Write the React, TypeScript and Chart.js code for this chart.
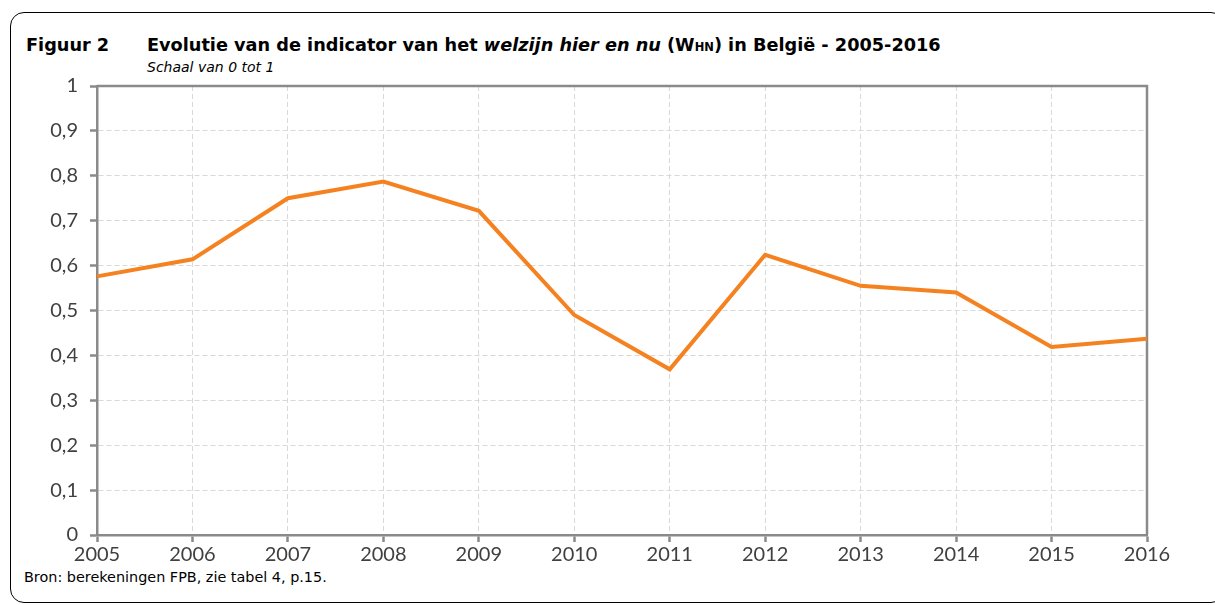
import React, { useEffect, useRef } from 'react';
import { Chart, registerables } from 'chart.js';

Chart.register(...registerables);

const years = ['2005', '2006', '2007', '2008', '2009', '2010', '2011', '2012', '2013', '2014', '2015', '2016'];
const whnValues = [0.576, 0.614, 0.750, 0.787, 0.722, 0.490, 0.369, 0.624, 0.555, 0.540, 0.419, 0.437];
const yTickLabels = ['0', '0,1', '0,2', '0,3', '0,4', '0,5', '0,6', '0,7', '0,8', '0,9', '1'];

const AXIS_GRAY = '#8a8a8a';
const GRID_GRAY = '#d9d9d9';
const LINE_ORANGE = '#f58220';
const TICK_TEXT = '#404040';

const frameLines = {
  id: 'frameLines',
  beforeDatasetsDraw(chart: any) {
    const { ctx, chartArea } = chart;
    const { left, right, top, bottom } = chartArea;
    ctx.save();
    ctx.strokeStyle = AXIS_GRAY;
    ctx.lineWidth = 2.5;
    ctx.beginPath();
    ctx.moveTo(left, top);
    ctx.lineTo(right, top);
    ctx.lineTo(right, bottom);
    ctx.stroke();
    ctx.restore();
  },
};

export default function App() {
  const canvasRef = useRef<HTMLCanvasElement | null>(null);

  useEffect(() => {
    if (!canvasRef.current) return;
    const chart = new Chart(canvasRef.current, {
      type: 'line',
      data: {
        labels: years,
        datasets: [
          {
            label: 'WHN',
            data: whnValues,
            borderColor: LINE_ORANGE,
            backgroundColor: LINE_ORANGE,
            borderWidth: 4,
            pointRadius: 0,
            tension: 0,
            borderJoinStyle: 'miter',
          },
        ],
      },
      options: {
        animation: false,
        responsive: false,
        devicePixelRatio: 1,
        layout: { padding: { top: 86, right: 68, left: 0, bottom: 0 } },
        plugins: {
          legend: { display: false },
          tooltip: { enabled: false },
          title: { display: false },
        },
        scales: {
          x: {
            type: 'category',
            offset: false,
            grid: {
              offset: false,
              color: GRID_GRAY,
              lineWidth: 1,
              tickLength: 7,
              tickColor: AXIS_GRAY,
              tickWidth: 2.5,
            },
            border: { display: true, color: AXIS_GRAY, width: 2.5, dash: [5, 3] },
            ticks: {
              color: TICK_TEXT,
              font: { family: 'Lato, "Open Sans", sans-serif', size: 20 },
              padding: 1,
              maxRotation: 0,
              autoSkip: false,
            },
            afterFit(scale: any) {
              scale.height = 70;
            },
          },
          y: {
            min: 0,
            max: 1,
            ticks: {
              stepSize: 0.1,
              color: TICK_TEXT,
              font: { family: 'Lato, "Open Sans", sans-serif', size: 20 },
              padding: 12,
              callback: (_v: any, i: number) => yTickLabels[i],
            },
            grid: {
              color: GRID_GRAY,
              lineWidth: 1,
              tickLength: 7,
              tickColor: AXIS_GRAY,
              tickWidth: 2.5,
            },
            border: { display: true, color: AXIS_GRAY, width: 2.5, dash: [5, 3] },
            afterFit(scale: any) {
              scale.width = 97;
            },
          },
        },
      },
      plugins: [frameLines],
    } as any);
    return () => chart.destroy();
  }, []);

  const font = '"DejaVu Sans", Verdana, sans-serif';

  return (
    <div style={{ position: 'absolute', left: 0, top: 0, width: 1215, height: 605, overflow: 'hidden', background: '#fff' }}>
      <div
        style={{
          position: 'absolute',
          left: 10,
          top: 12,
          width: 1215,
          height: 591,
          border: '1.5px solid #000',
          borderRadius: 14,
          boxSizing: 'border-box',
        }}
      />
      <div style={{ position: 'absolute', left: 26, top: 34, fontFamily: font, fontWeight: 'bold', fontSize: 17.7, lineHeight: '22px', color: '#000', whiteSpace: 'nowrap' }}>
        Figuur 2
      </div>
      <div style={{ position: 'absolute', left: 147, top: 34, fontFamily: font, fontWeight: 'bold', fontSize: 17.7, lineHeight: '22px', color: '#000', whiteSpace: 'nowrap' }}>
        Evolutie van de indicator van het <i>welzijn hier en nu</i> (W<span style={{ fontSize: 11.5 }}>HN</span>) in België - 2005-2016
      </div>
      <div style={{ position: 'absolute', left: 147, top: 58.5, fontFamily: font, fontStyle: 'italic', fontSize: 14, lineHeight: '16px', color: '#000', whiteSpace: 'nowrap' }}>
        Schaal van 0 tot 1
      </div>
      <div style={{ position: 'absolute', left: 24, top: 568.5, fontFamily: font, fontSize: 14.4, lineHeight: '17px', color: '#000', whiteSpace: 'nowrap' }}>
        Bron: berekeningen FPB, zie tabel 4, p.15.
      </div>
      <canvas ref={canvasRef} width={1215} height={605} style={{ position: 'absolute', left: 0, top: 0, width: 1215, height: 605 }} />
    </div>
  );
}
